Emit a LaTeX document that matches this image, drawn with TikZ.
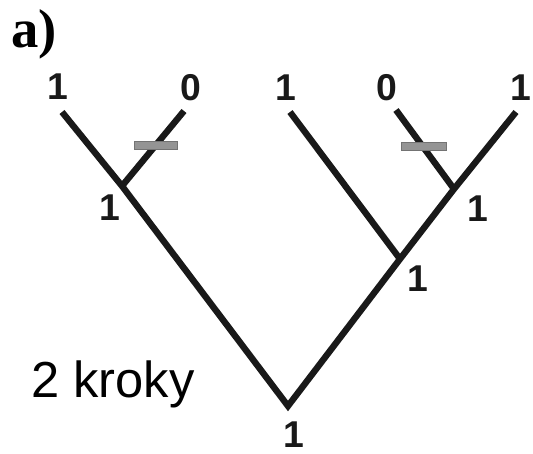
\documentclass[tikz,border=0pt]{standalone}
\usepackage{fontspec}
\setmainfont{Liberation Sans}
\newfontfamily\serifb{Liberation Serif}
\begin{document}
\begin{tikzpicture}[x=0.75pt,y=-0.75pt,
  branch/.style={line width=4.8pt,draw=black!90},
  lbl/.style={font=\fontsize{28}{30}\selectfont\bfseries,text=black!90,inner sep=0pt},
  mut/.style={fill=black!42,draw=black!55,line width=0.6pt}]
\useasboundingbox (0,0) rectangle (533,454);
% nodes of tree
\coordinate (root) at (288,406);
\coordinate (L1) at (122,186);
\coordinate (R1) at (400,259);
\coordinate (R2) at (454,189);
\coordinate (la) at (62,112);
\coordinate (lb) at (184,111);
\coordinate (lc) at (290,112);
\coordinate (ld) at (396,110);
\coordinate (le) at (516,112);
% branches
\draw[branch] (la) -- (L1) -- (root) -- (R1) -- (R2) -- (le);
\draw[branch] (L1) -- (lb);
\draw[branch] (lc) -- (R1);
\draw[branch] (ld) -- (R2);
% mutation bars
\draw[mut] (134,141) rectangle (177,149);
\draw[mut] (401,142) rectangle (446,150);
% labels
\node[lbl] (ta) at (58,87) {1};
\node[lbl] (tb) at (191,88) {0};
\node[lbl] (tc) at (286,88) {1};
\node[lbl] (td) at (387,88) {0};
\node[lbl] (te) at (521,88) {1};
\node[lbl] (tL1) at (110,208) {1};
\node[lbl] (tR2) at (478,209) {1};
\node[lbl] (tR1) at (418,279) {1};
\node[lbl] (troot) at (294,435) {1};
\node[anchor=base west,inner sep=0pt,font=\fontsize{38}{40}\selectfont] (steps) at (31,397) {2 kroky};
\node[anchor=base west,inner sep=0pt,font=\serifb\bfseries\fontsize{41}{43}\selectfont] (title) at (11,47) {a)};
\end{tikzpicture}
\end{document}
